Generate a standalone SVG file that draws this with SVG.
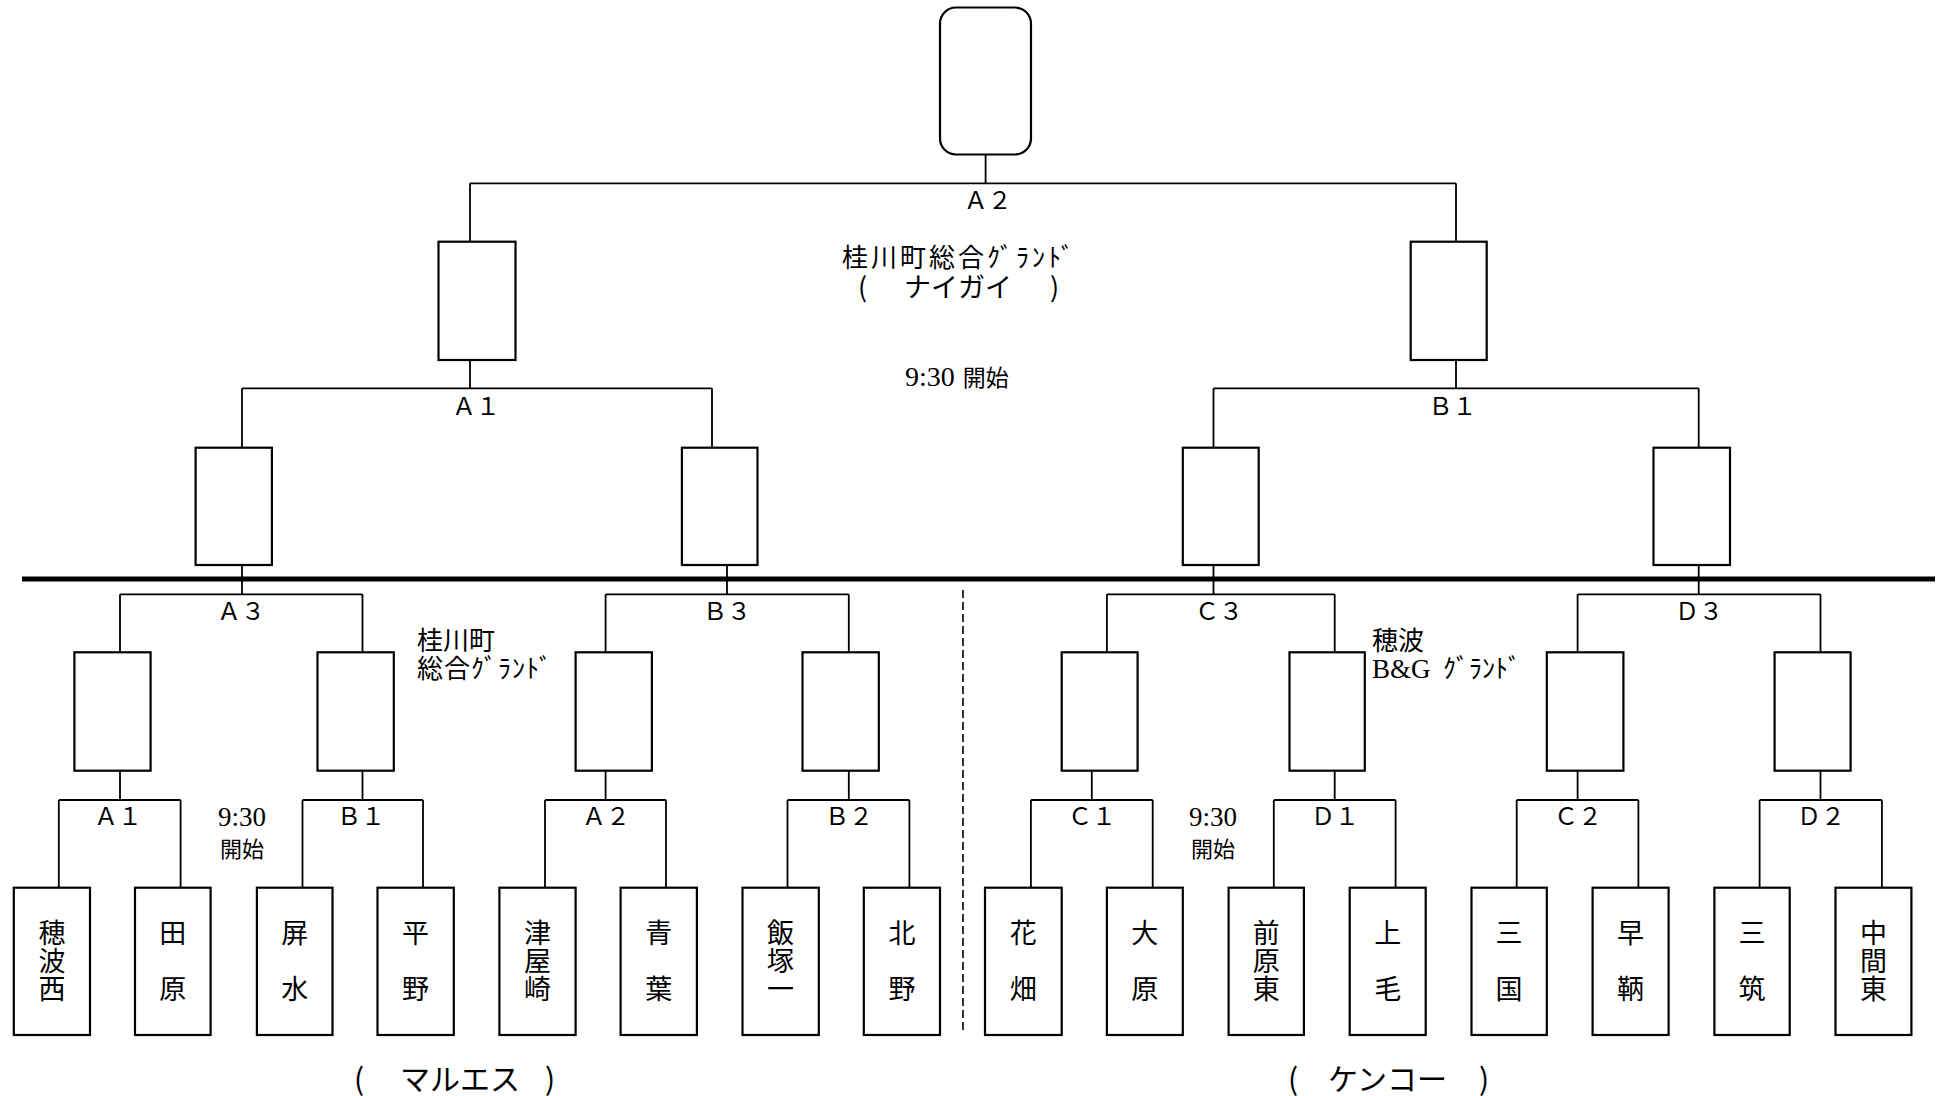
<svg xmlns="http://www.w3.org/2000/svg" width="1944" height="1096" viewBox="0 0 1944 1096">
<style>
.bg{fill:#fff}
.box{fill:#fff;stroke:#000;stroke-width:2.2}
.ln{fill:none;stroke:#000;stroke-width:1.8}
.thick{fill:none;stroke:#000;stroke-width:5}
.dash{fill:none;stroke:#000;stroke-width:1.6;stroke-dasharray:8 4}
.j{font-family:"Noto Sans CJK JP","Noto Sans",sans-serif;fill:#000}
.lab{font-family:"Noto Sans CJK JP",sans-serif;font-size:24px;text-anchor:middle;fill:#000}
.team{font-family:"Noto Sans CJK JP",sans-serif;font-size:27px;letter-spacing:1px;writing-mode:vertical-rl;fill:#000}
.ser{font-family:"Liberation Serif",serif;fill:#000}
</style>
<rect class="bg" x="0" y="0" width="1944" height="1096"/>
<g id="connectors">
<path class="ln" d="M985.6 154V183.3M470 183.3H1456M470 183.3V241.7M1456 183.3V241.7"/>
<path class="ln" d="M470 360V388.3M242 388.3H712M242 388.3V447.7M712 388.3V447.7"/>
<path class="ln" d="M1456 360V388.3M1213.5 388.3H1698.7M1213.5 388.3V447.7M1698.7 388.3V447.7"/>
<path class="ln" d="M242 565V594.3M120 594.3H362.5M120 594.3V652.3M362.5 594.3V652.3"/>
<path class="ln" d="M727 565V594.3M605.6 594.3H848.8M605.6 594.3V652.3M848.8 594.3V652.3"/>
<path class="ln" d="M1213.5 565V594.3M1106.9 594.3H1334.7M1106.9 594.3V652.3M1334.7 594.3V652.3"/>
<path class="ln" d="M1698.7 565V594.3M1577.6 594.3H1820.5M1577.6 594.3V652.3M1820.5 594.3V652.3"/>
<path class="ln" d="M120 770.7V800M58.8 800H180.6M58.8 800V887.7M180.6 800V887.7"/>
<path class="ln" d="M362.5 770.7V800M302.5 800H423M302.5 800V887.7M423 800V887.7"/>
<path class="ln" d="M605.6 770.7V800M545 800H666M545 800V887.7M666 800V887.7"/>
<path class="ln" d="M848.8 770.7V800M787.5 800H909.4M787.5 800V887.7M909.4 800V887.7"/>
<path class="ln" d="M1091.8 770.7V800M1030.9 800H1152.7M1030.9 800V887.7M1152.7 800V887.7"/>
<path class="ln" d="M1334.7 770.7V800M1273.8 800H1395.6M1273.8 800V887.7M1395.6 800V887.7"/>
<path class="ln" d="M1577.6 770.7V800M1516.7 800H1638.4M1516.7 800V887.7M1638.4 800V887.7"/>
<path class="ln" d="M1820.5 770.7V800M1759.6 800H1881.9M1759.6 800V887.7M1881.9 800V887.7"/>
<path class="thick" d="M22 579H1935"/>
<path class="dash" d="M963 590V1030"/>
</g>
<g id="final"><rect class="box" x="940" y="7.5" width="91" height="147" rx="16"/></g>
<g id="semi-left"><rect class="box" x="438.5" y="241.7" width="77" height="118.3"/></g>
<g id="semi-right"><rect class="box" x="1410.7" y="241.7" width="76" height="118.3"/></g>
<g id="q1"><rect class="box" x="195.6" y="447.7" width="76.3" height="117.3"/></g>
<g id="q2"><rect class="box" x="681.9" y="447.7" width="75.6" height="117.3"/></g>
<g id="q3"><rect class="box" x="1182.8" y="447.7" width="75.9" height="117.3"/></g>
<g id="q4"><rect class="box" x="1653.5" y="447.7" width="76.5" height="117.3"/></g>
<g id="r1"><rect class="box" x="74.4" y="652.3" width="76.2" height="118.4"/></g>
<g id="r2"><rect class="box" x="317.5" y="652.3" width="76.3" height="118.4"/></g>
<g id="r3"><rect class="box" x="575.6" y="652.3" width="76.3" height="118.4"/></g>
<g id="r4"><rect class="box" x="802.5" y="652.3" width="76.3" height="118.4"/></g>
<g id="r5"><rect class="box" x="1061.7" y="652.3" width="75.9" height="118.4"/></g>
<g id="r6"><rect class="box" x="1289.5" y="652.3" width="75.3" height="118.4"/></g>
<g id="r7"><rect class="box" x="1546.8" y="652.3" width="76.6" height="118.4"/></g>
<g id="r8"><rect class="box" x="1774.6" y="652.3" width="76" height="118.4"/></g>
<g id="t1"><rect class="box" x="13.8" y="887.7" width="76.2" height="147.3"/><text class="team" x="51.9" y="919">穂波西</text></g>
<g id="t2"><rect class="box" x="135" y="887.7" width="75.6" height="147.3"/><text class="team" x="172.8" y="919">田　原</text></g>
<g id="t3"><rect class="box" x="256.9" y="887.7" width="75.6" height="147.3"/><text class="team" x="294.7" y="919">屏　水</text></g>
<g id="t4"><rect class="box" x="377.5" y="887.7" width="76.3" height="147.3"/><text class="team" x="415.6" y="919">平　野</text></g>
<g id="t5"><rect class="box" x="499.4" y="887.7" width="76.2" height="147.3"/><text class="team" x="537.5" y="919">津屋崎</text></g>
<g id="t6"><rect class="box" x="620.6" y="887.7" width="76.3" height="147.3"/><text class="team" x="658.8" y="919">青　葉</text></g>
<g id="t7"><rect class="box" x="742.5" y="887.7" width="76.3" height="147.3"/><text class="team" x="780.6" y="919">飯塚一</text></g>
<g id="t8"><rect class="box" x="863.8" y="887.7" width="76.2" height="147.3"/><text class="team" x="901.9" y="919">北　野</text></g>
<g id="t9"><rect class="box" x="985" y="887.7" width="76.7" height="147.3"/><text class="team" x="1023.3" y="919">花　畑</text></g>
<g id="t10"><rect class="box" x="1106.9" y="887.7" width="75.9" height="147.3"/><text class="team" x="1144.8" y="919">大　原</text></g>
<g id="t11"><rect class="box" x="1228.6" y="887.7" width="75.3" height="147.3"/><text class="team" x="1266.2" y="919">前原東</text></g>
<g id="t12"><rect class="box" x="1349.7" y="887.7" width="76" height="147.3"/><text class="team" x="1387.7" y="919">上　毛</text></g>
<g id="t13"><rect class="box" x="1471.5" y="887.7" width="75.3" height="147.3"/><text class="team" x="1509.1" y="919">三　国</text></g>
<g id="t14"><rect class="box" x="1592.6" y="887.7" width="76" height="147.3"/><text class="team" x="1630.6" y="919">早　鞆</text></g>
<g id="t15"><rect class="box" x="1714.4" y="887.7" width="75.3" height="147.3"/><text class="team" x="1752" y="919">三　筑</text></g>
<g id="t16"><rect class="box" x="1835.5" y="887.7" width="75.9" height="147.3"/><text class="team" x="1873.4" y="919">中間東</text></g>
<g id="labels">
<text class="lab" x="987.7" y="209">Ａ２</text>
<text class="lab" x="476" y="415">Ａ１</text>
<text class="lab" x="1452.6" y="415">Ｂ１</text>
<text class="lab" x="241" y="620">Ａ３</text>
<text class="lab" x="727" y="620">Ｂ３</text>
<text class="lab" x="1219" y="620">Ｃ３</text>
<text class="lab" x="1699" y="620">Ｄ３</text>
<text class="lab" x="118" y="825">Ａ１</text>
<text class="lab" x="361" y="825">Ｂ１</text>
<text class="lab" x="606" y="825">Ａ２</text>
<text class="lab" x="849" y="825">Ｂ２</text>
<text class="lab" x="1092" y="825">Ｃ１</text>
<text class="lab" x="1335" y="825">Ｄ１</text>
<text class="lab" x="1578" y="825">Ｃ２</text>
<text class="lab" x="1821" y="825">Ｄ２</text>
</g>
<g id="notes">
<text class="j"><tspan x="842" y="267" font-size="26" letter-spacing="3">桂川町総合ｸﾞﾗﾝﾄﾞ</tspan><tspan x="858" y="297" font-size="27">(</tspan><tspan x="904" y="297" font-size="27">ナイガイ</tspan><tspan x="1050" y="297" font-size="27">)</tspan></text>
<text x="905" y="386"><tspan class="ser" font-size="28">9:30</tspan><tspan class="j" font-size="23" dx="8">開始</tspan></text>
<text class="j" font-size="26"><tspan x="417" y="650">桂川町</tspan><tspan x="417" y="678" letter-spacing="1">総合ｸﾞﾗﾝﾄﾞ</tspan></text>
<text><tspan class="j" font-size="26" x="1372" y="650">穂波</tspan><tspan class="ser" font-size="27" x="1372" y="678">B&amp;G</tspan><tspan class="j" font-size="26" x="1443" y="678">ｸﾞﾗﾝﾄﾞ</tspan></text>
<text text-anchor="middle"><tspan class="ser" font-size="27" x="242" y="826">9:30</tspan><tspan class="j" font-size="22" x="242" y="857">開始</tspan></text>
<text text-anchor="middle"><tspan class="ser" font-size="27" x="1213" y="826">9:30</tspan><tspan class="j" font-size="22" x="1213" y="857">開始</tspan></text>
<text class="j" font-size="30" y="1090"><tspan x="354">(</tspan><tspan x="400">マルエス</tspan><tspan x="545">)</tspan></text>
<text class="j" font-size="30" y="1090"><tspan x="1288">(</tspan><tspan x="1328">ケンコー</tspan><tspan x="1479">)</tspan></text>
</g>
</svg>
